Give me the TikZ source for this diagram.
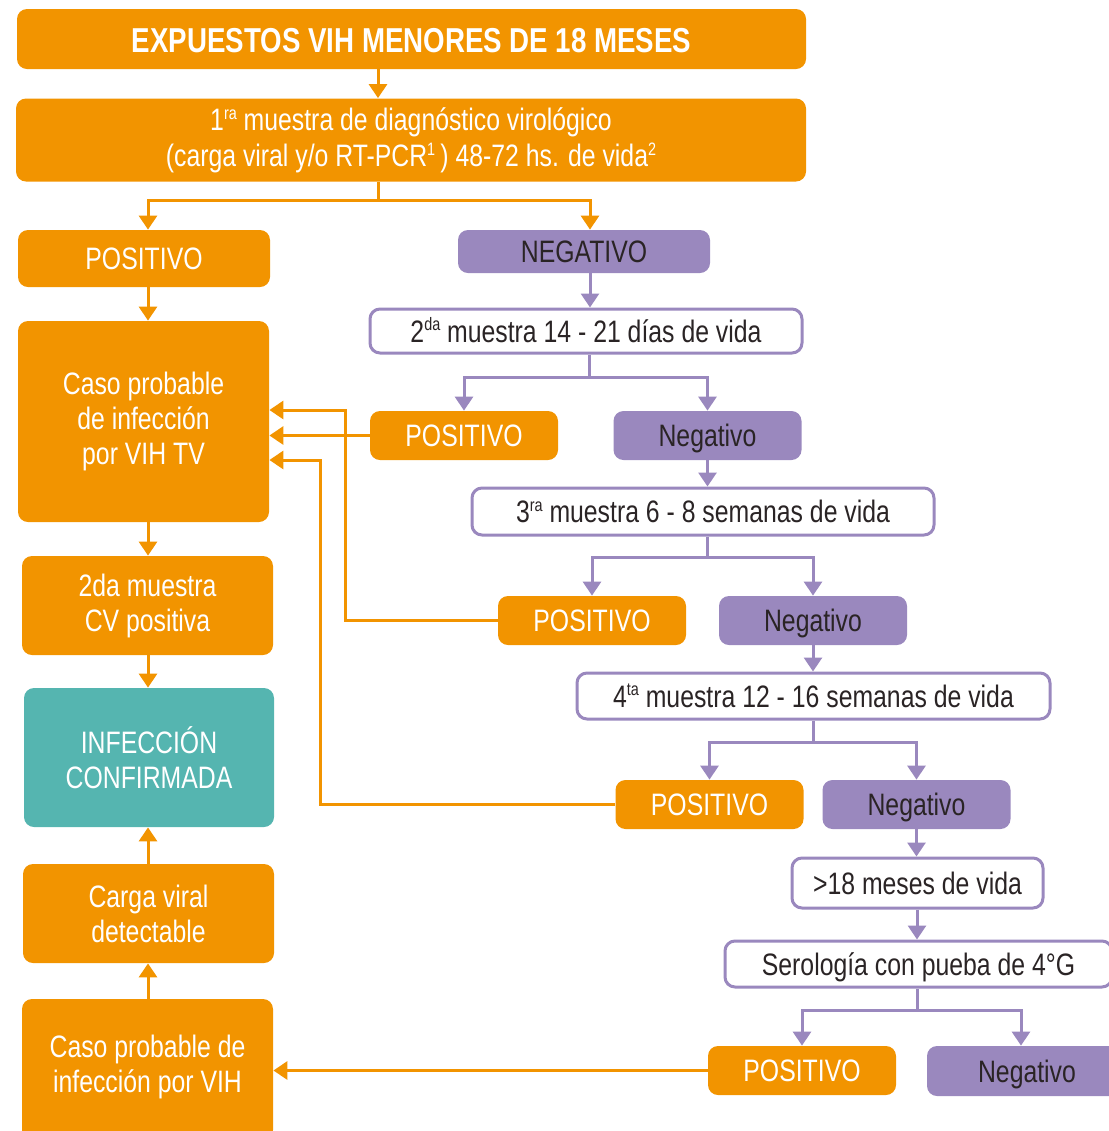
\documentclass[tikz,border=0pt]{standalone}
\usepackage{fontspec}
\setmainfont{Liberation Sans}[FakeStretch=0.8]
\usetikzlibrary{arrows.meta,positioning}
\definecolor{naranja}{HTML}{F29400}
\definecolor{lila}{HTML}{9A88BE}
\definecolor{verde}{HTML}{55B5B0}
\definecolor{oscuro}{HTML}{2A2425}
\newcommand{\supi}[1]{\raisebox{0.36em}{\fontsize{9}{9}\selectfont #1}}
\begin{document}
\begin{tikzpicture}[x=0.5pt, y=-0.5pt,
	caja/.style={rounded corners=5pt, inner sep=0pt, align=center, font=\fontsize{15.5}{17.5}\selectfont},
	nbox/.style={caja, fill=naranja, text=white},
	lbox/.style={caja, fill=lila, text=oscuro},
	wbox/.style={caja, draw=lila, line width=1.5pt, fill=white, text=oscuro},
	vbox/.style={caja, fill=verde, text=white},
	linea/.style={text height=12pt, text depth=1pt},
	chica/.style={linea, minimum width=94pt, minimum height=24.5pt},
	nflecha/.style={draw=naranja, line width=1.5pt, -{Triangle[width=9pt,length=7pt]}},
	lflecha/.style={draw=lila, line width=1.5pt, -{Triangle[width=9pt,length=7pt]}},
	llinea/.style={draw=lila, line width=1.5pt},
	nlinea/.style={draw=naranja, line width=1.5pt}]
	\clip (0,0) rectangle (1109,1131);

	\node[nbox, linea, text height=14pt, minimum width=394.5pt, minimum height=30pt, font=\fontsize{17.3}{20}\selectfont\bfseries] (titulo) at (411.5,39) {EXPUESTOS VIH MENORES DE 18 MESES};
	\node[nbox, minimum width=395pt, minimum height=41.5pt, font=\fontsize{15.5}{18}\selectfont] (m1) at (411,140) {1\supi{ra} muestra de diagnóstico virológico\\(carga viral y/o RT-PCR\supi{1}\,) 48-72 hs. de vida\supi{2}};
	\node[nbox, linea, minimum width=126pt, minimum height=28.5pt] (pos1) at (144,258.5) {POSITIVO};
	\node[lbox, linea, minimum width=126pt, minimum height=21.5pt] (neg1) at (584,251.5) {NEGATIVO};
	\node[wbox, linea, minimum width=216pt, minimum height=22pt] (m2) at (586,331) {2\supi{da} muestra 14 - 21 días de vida};
	\node[nbox, chica] (pos2) at (464,435.5) {POSITIVO};
	\node[lbox, chica] (neg2) at (707.5,435.5) {Negativo};
	\node[wbox, linea, minimum width=231pt, minimum height=23.5pt] (m3) at (703,511.5) {3\supi{ra} muestra 6 - 8 semanas de vida};
	\node[nbox, chica] (pos3) at (592,620.5) {POSITIVO};
	\node[lbox, chica] (neg3) at (813,620.5) {Negativo};
	\node[wbox, linea, minimum width=236.5pt, minimum height=23pt] (m4) at (813.5,696) {4\supi{ta} muestra 12 - 16 semanas de vida};
	\node[nbox, chica] (pos4) at (709.5,804.5) {POSITIVO};
	\node[lbox, chica] (neg4) at (916.5,804.5) {Negativo};
	\node[wbox, linea, minimum width=125.5pt, minimum height=25pt] (m5) at (917.5,883) {>18 meses de vida};
	\node[wbox, linea, minimum width=193.5pt, minimum height=23pt] (m6) at (918.5,964) {Serología con pueba de 4°G};
	\node[nbox, chica] (pos5) at (802,1070.5) {POSITIVO};
	\node[lbox, chica, minimum width=100pt, minimum height=25pt] (neg5) at (1027,1071) {Negativo};

	\node[nbox, minimum width=125.5pt, minimum height=100.5pt] (cpt) at (143.5,421.5) {Caso probable\\de infección\\por VIH TV};
	\node[nbox, minimum width=125.5pt, minimum height=49.5pt] (cv2) at (147.5,605.5) {2da muestra\\CV positiva};
	\node[vbox, minimum width=125pt, minimum height=69.5pt] (conf) at (149,757.5) {INFECCIÓN\\CONFIRMADA};
	\node[nbox, minimum width=125.5pt, minimum height=49.5pt] (cvd) at (148.5,913.5) {Carga viral\\detectable};
	\node[nbox, minimum width=125.5pt, minimum height=70.5pt, text depth=6pt] (cpv) at (147.5,1069.5) {Caso probable de\\infección por VIH};

	\coordinate (s0) at (148,200);
	\coordinate (s1) at (378,200);
	\coordinate (s2) at (589,377);
	\coordinate (s3) at (707,557);
	\coordinate (s4) at (813,742);
	\coordinate (s6) at (917,1010);
	\coordinate (k3) at (345,410);
	\coordinate (k4) at (320,460);

	\draw[nflecha] (titulo.south -| s1) -- (m1.north -| s1);
	\draw[nlinea] (m1.south -| s1) -- (s1);
	\draw[nflecha] (s1) -| (pos1.north -| s0);
	\draw[nflecha] (s1) -| ([xshift=3pt]neg1.north);
	\draw[lflecha] ([xshift=3pt]neg1.south) -- ([xshift=3pt]neg1.south |- m2.north);
	\draw[llinea] (m2.south -| s2) -- (s2);
	\draw[lflecha] (s2) -| (pos2.north);
	\draw[lflecha] (s2) -| (neg2.north);
	\draw[lflecha] (neg2.south) -- (neg2.south |- m3.north);
	\draw[llinea] (m3.south -| s3) -- (s3);
	\draw[lflecha] (s3) -| (pos3.north);
	\draw[lflecha] (s3) -| (neg3.north);
	\draw[lflecha] (neg3.south) -- (neg3.south |- m4.north);
	\draw[llinea] (m4.south -| s4) -- (s4);
	\draw[lflecha] (s4) -| (pos4.north);
	\draw[lflecha] (s4) -| (neg4.north);
	\draw[lflecha] (neg4.south) -- (neg4.south |- m5.north);
	\draw[lflecha] (m5.south -| s6) -- (m6.north -| s6);
	\draw[llinea] (m6.south -| s6) -- (s6);
	\draw[lflecha] (s6) -| (pos5.north);
	\draw[lflecha] (s6) -| ([xshift=-3pt]neg5.north);

	\draw[nflecha] (pos2.west) -- (pos2.west -| cpt.east);
	\draw[nflecha] (pos3.west) -| (k3) -- (k3 -| cpt.east);
	\draw[nflecha] (pos4.west) -| (k4) -- (k4 -| cpt.east);
	\draw[nflecha] (pos5.west) -- (pos5.west -| cpv.east);

	\draw[nflecha] (pos1.south -| s0) -- (cpt.north -| s0);
	\draw[nflecha] (cpt.south -| s0) -- (cv2.north -| s0);
	\draw[nflecha] (cv2.south -| s0) -- (conf.north -| s0);
	\draw[nflecha] (cvd.north -| s0) -- (conf.south -| s0);
	\draw[nflecha] (cpv.north -| s0) -- (cvd.south -| s0);
\end{tikzpicture}
\end{document}
